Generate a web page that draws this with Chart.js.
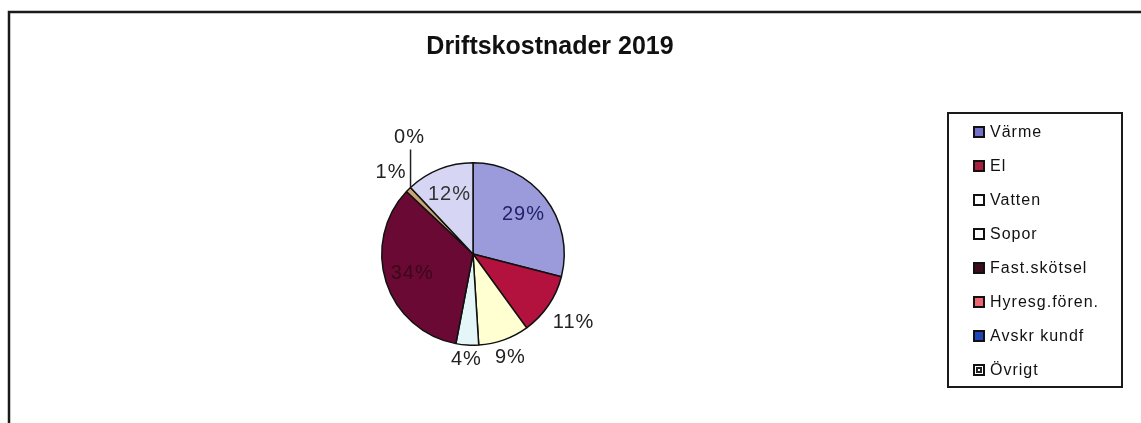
<!DOCTYPE html>
<html>
<head>
<meta charset="utf-8">
<script src="https://cdn.jsdelivr.net/npm/chart.js@4/dist/chart.umd.min.js"></script>
<style>
  html, body { margin: 0; padding: 0; background: #fff; }
  #wrap { position: relative; width: 1141px; height: 423px; }
</style>
</head>
<body>
<div id="wrap"><canvas id="myChart" width="1141" height="423"></canvas></div>
<script>
var categories = ['Värme', 'El', 'Vatten', 'Sopor', 'Fast.skötsel', 'Hyresg.fören.', 'Avskr kundf', 'Övrigt'];
var shares = [29, 11, 9, 4, 34, 1, 0, 12];
var chartTitle = 'Driftskostnader 2019';

var sliceColors = ['#9b9bdc', '#b3123f', '#ffffd2', '#e4f6f8', '#6a0a34', '#c9a574', '#2a44b0', '#d6d6f4'];
var legendColors = ['#7272c8', '#a8203e', '#ffffff', '#ffffff', '#3e0a1e', '#ee6674', '#2244b4', '#ffffff'];
var insideText = ['#22226a', '#222', '#222', '#222', '#3a0818', '#222', '#222', '#333'];

// frame, title and legend box drawn round the pie
var decor = {
    id: 'decor',
    beforeDraw: function (chart) {
        var ctx = chart.ctx;
        ctx.save();
        ctx.fillStyle = '#fff';
        ctx.fillRect(0, 0, chart.width, chart.height);
        ctx.strokeStyle = '#1a1a1a';
        ctx.lineWidth = 2.5;
        ctx.strokeRect(9, 12, 1200, 500);
        ctx.restore();
    },
    afterDraw: function (chart) {
        var ctx = chart.ctx;
        ctx.save();
        ctx.fillStyle = '#111';
        ctx.font = 'bold 25px "Liberation Sans", Arial, sans-serif';
        ctx.textAlign = 'center';
        ctx.textBaseline = 'middle';
        ctx.fillText(chartTitle, 550, 47);

        // legend
        ctx.strokeStyle = '#1a1a1a';
        ctx.lineWidth = 2;
        ctx.strokeRect(948, 113, 174, 274);
        ctx.font = '16px "Liberation Sans", Arial, sans-serif';
        ctx.letterSpacing = '1px';
        ctx.textAlign = 'left';
        for (var i = 0; i < categories.length; i++) {
            var y = 132 + i * 34;
            ctx.fillStyle = legendColors[i];
            ctx.fillRect(974, y - 5, 10, 10);
            ctx.lineWidth = 2;
            ctx.strokeStyle = '#111';
            ctx.strokeRect(974, y - 5, 10, 10);
            if (categories[i] === 'Övrigt') {
                ctx.fillStyle = '#222';
                ctx.fillRect(976, y - 3, 6, 6);
                ctx.fillStyle = '#fff';
                ctx.fillRect(978, y - 1, 2, 2);
            }
            ctx.fillStyle = '#111';
            ctx.fillText(categories[i], 990, y + 1);
        }
        ctx.restore();
    }
};

// percent labels placed from the arcs the library computed
var pieLabels = {
    id: 'pieLabels',
    afterDatasetsDraw: function (chart) {
        var ctx = chart.ctx;
        var meta = chart.getDatasetMeta(0);
        ctx.save();
        ctx.font = '20px "Liberation Sans", Arial, sans-serif';
        ctx.letterSpacing = '1px';
        ctx.textAlign = 'center';
        ctx.textBaseline = 'middle';
        meta.data.forEach(function (arc, i) {
            var p = arc.getProps(['x', 'y', 'startAngle', 'endAngle', 'outerRadius'], true);
            var mid = (p.startAngle + p.endAngle) / 2;
            var c = Math.cos(mid), s = Math.sin(mid);
            var txt = shares[i] + '%';
            var R = p.outerRadius;
            if (shares[i] === 0) {
                var ex = p.x + c * R, ey = p.y + s * R;
                ctx.strokeStyle = '#222';
                ctx.lineWidth = 1.5;
                ctx.beginPath();
                ctx.moveTo(ex, ey);
                ctx.lineTo(ex, ey - 38);
                ctx.stroke();
                ctx.fillStyle = '#222';
                ctx.fillText(txt, ex - 1, ey - 50);
            } else if (shares[i] >= 12) {
                ctx.fillStyle = insideText[i];
                ctx.fillText(txt, p.x + c * R * 0.7, p.y + s * R * 0.7);
            } else {
                var w = ctx.measureText(txt).width;
                var d = R + 6 + Math.abs(c) * (w / 2 + 4) + Math.abs(s) * 7;
                ctx.fillStyle = '#222';
                ctx.fillText(txt, p.x + c * d, p.y + s * d);
            }
        });
        ctx.restore();
    }
};

var ctx = document.querySelector('#myChart').getContext('2d');
var myChart = new Chart(ctx, {
    type: 'pie',
    data: {
        labels: categories,
        datasets: [{
            data: shares,
            backgroundColor: sliceColors,
            borderColor: '#111',
            borderWidth: 1.5
        }]
    },
    options: {
        responsive: false,
        animation: false,
        layout: { padding: { left: 380, right: 575, top: 162, bottom: 77 } },
        plugins: {
            legend: { display: false },
            tooltip: { enabled: false },
            title: { display: false }
        }
    },
    plugins: [decor, pieLabels]
});
</script>
</body>
</html>
